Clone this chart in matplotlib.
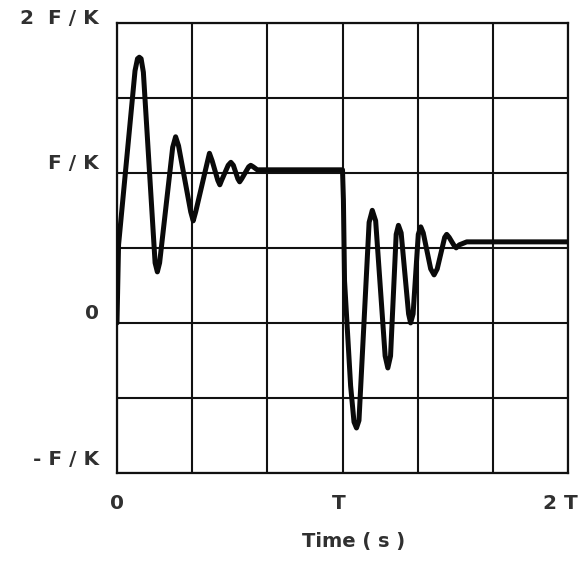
import matplotlib
matplotlib.use("Agg")
import matplotlib.pyplot as plt
from matplotlib.transforms import ScaledTranslation

# Time in units of T, response in units of F/K
time_T = [0.000, 0.007, 0.080, 0.091, 0.099, 0.107, 0.117,
          0.169, 0.179, 0.189,
          0.247, 0.260, 0.273,
          0.327, 0.338, 0.349,
          0.402, 0.410, 0.422,
          0.447, 0.456, 0.464,
          0.493, 0.505, 0.516,
          0.536, 0.544, 0.553,
          0.584, 0.593, 0.604, 0.622,
          1.000,
          1.004, 1.009, 1.036, 1.051, 1.062, 1.073,
          1.118, 1.132, 1.147,
          1.189, 1.201, 1.213,
          1.238, 1.248, 1.260,
          1.293, 1.302, 1.313,
          1.336, 1.347, 1.358,
          1.391, 1.406, 1.420,
          1.453, 1.462, 1.473,
          1.493, 1.504, 1.518,
          1.551, 2.000]
response = [0.00, 0.52, 1.68, 1.76, 1.77, 1.76, 1.67,
            0.40, 0.34, 0.40,
            1.17, 1.24, 1.18,
            0.74, 0.68, 0.74,
            1.08, 1.13, 1.08,
            0.95, 0.92, 0.95,
            1.05, 1.07, 1.05,
            0.96, 0.94, 0.96,
            1.04, 1.05, 1.04, 1.02,
            1.02,
            0.82, 0.28, -0.42, -0.66, -0.70, -0.65,
            0.67, 0.75, 0.68,
            -0.22, -0.30, -0.22,
            0.59, 0.65, 0.60,
            0.06, 0.00, 0.06,
            0.59, 0.64, 0.60,
            0.36, 0.32, 0.36,
            0.57, 0.59, 0.57,
            0.52, 0.50, 0.52,
            0.54, 0.54]

x_ticks = [0, 1, 2]
x_tick_labels = ["0", "T", "2 T"]
y_ticks = [-1, 0, 1, 2]
y_tick_labels = ["- F / K", "0", "F / K", "2  F / K"]
x_grid = [0, 1/3, 2/3, 1, 4/3, 5/3, 2]
y_grid = [-1, -0.5, 0, 0.5, 1, 1.5, 2]

plt.rcParams['font.family'] = ['DejaVu Sans']
plt.rcParams['font.weight'] = 'bold'
txt_color = '#303030'
fig = plt.figure(figsize=(5.82, 5.65), dpi=100)
ax = fig.add_axes([0.201, 0.1628, 0.775, 0.797])
ax.set_xlim(0, 2)
ax.set_ylim(-1, 2)

for xv in x_grid:
    ax.axvline(xv, color='#111111', lw=1.5, zorder=1)
for yv in y_grid:
    ax.axhline(yv, color='#111111', lw=1.5, zorder=1)

ax.plot(time_T, response, color='#0a0a0a', lw=3.6,
        solid_joinstyle='round', solid_capstyle='round', zorder=3)

for s in ax.spines.values():
    s.set_linewidth(1.6)
    s.set_color('#111111')

ax.set_xticks(x_ticks)
ax.set_xticklabels(x_tick_labels, fontsize=14.5, color=txt_color, fontweight='bold')
ax.set_yticks(y_ticks)
ax.set_yticklabels(y_tick_labels, fontsize=14.5, color=txt_color, fontweight='bold', va='bottom')
ax.tick_params(axis='x', length=0, pad=15)
ax.tick_params(axis='y', length=0, pad=13)

def shift(lab, dx_px, dy_px):
    lab.set_transform(lab.get_transform() +
                      ScaledTranslation(dx_px / 100, dy_px / 100, fig.dpi_scale_trans))

y_shifts = {"2  F / K": -5, "- F / K": 4}
for lab in ax.get_yticklabels():
    if lab.get_text() in y_shifts:
        shift(lab, 0, y_shifts[lab.get_text()])
x_shifts = {"T": -4, "2 T": -8}
for lab in ax.get_xticklabels():
    if lab.get_text() in x_shifts:
        shift(lab, x_shifts[lab.get_text()], 0)

ax.set_xlabel("Time ( s )", fontsize=14, color=txt_color, fontweight='bold', labelpad=14)
ax.xaxis.label.set_x(0.524)

fig.savefig("out.png", dpi=100, facecolor='white')
